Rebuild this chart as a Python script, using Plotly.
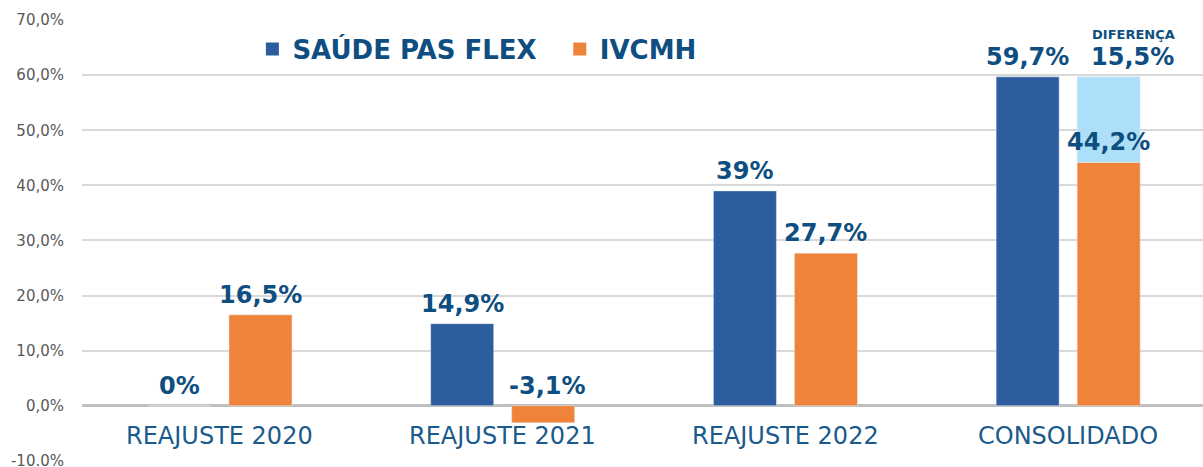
import plotly.graph_objects as go

categories = ["REAJUSTE 2020", "REAJUSTE 2021", "REAJUSTE 2022", "CONSOLIDADO"]
saude_pas_flex = [0, 14.9, 39, 59.7]
ivcmh = [16.5, -3.1, 27.7, 44.2]
saude_labels = ["0%", "14,9%", "39%", "59,7%"]
ivcmh_labels = ["16,5%", "-3,1%", "27,7%", "44,2%"]
diff_category = ["CONSOLIDADO"]
diff_value = [15.5]
diff_label = "15,5%"
diff_title = "DIFERENÇA"
tick_vals = [-10, 0, 10, 20, 30, 40, 50, 60, 70]
tick_text = ["-10.0%", "0,0%", "10,0%", "20,0%", "30,0%", "40,0%", "50,0%", "60,0%", "70,0%"]

BLUE = "#2D5D9F"
ORANGE = "#F0833A"
LIGHT = "#ADDFF9"
TEXT = "#0E4E80"
BOLD = "DejaVu Sans"

fig = go.Figure()
fig.add_trace(go.Bar(name="SAÚDE PAS FLEX", x=categories, y=saude_pas_flex,
                     marker_color=BLUE, offsetgroup="a", showlegend=False))
fig.add_trace(go.Bar(name="IVCMH", x=categories, y=ivcmh,
                     marker_color=ORANGE, offsetgroup="b", showlegend=False))
fig.add_trace(go.Bar(name="Diferença", x=diff_category, y=diff_value,
                     base=[ivcmh[3]], marker_color=LIGHT, offsetgroup="b",
                     showlegend=False))
# legend entries (square markers)
fig.add_trace(go.Scatter(name="SAÚDE PAS FLEX\u00a0\u00a0", x=[None], y=[None], mode="markers",
                         marker=dict(symbol="square", size=13, color=BLUE)))
fig.add_trace(go.Scatter(name="IVCMH", x=[None], y=[None], mode="markers",
                         marker=dict(symbol="square", size=13, color=ORANGE)))

label_font = dict(family=BOLD, size=24, color=TEXT, weight="bold")
off = 0.143
for i, c in enumerate(categories):
    fig.add_annotation(x=i - off, y=max(saude_pas_flex[i], 0), text=saude_labels[i],
                       showarrow=False, yanchor="bottom", yshift=4, font=label_font)
    yv = ivcmh[i] if ivcmh[i] >= 0 else 0
    fig.add_annotation(x=i + off, y=yv, text=ivcmh_labels[i],
                       showarrow=False, yanchor="bottom", yshift=4,
                       xshift=4 if ivcmh[i] < 0 else 0, font=label_font)
    fig.add_annotation(x=c, y=-5.5, text=c, showarrow=False, yanchor="middle",
                       font=dict(family="DejaVu Sans", size=24, color="#1A5A8C"))

fig.add_annotation(x=3 + off, y=saude_pas_flex[3], text=diff_label, showarrow=False,
                   yanchor="bottom", yshift=4, xshift=24, font=label_font)
fig.add_annotation(x=3 + off, y=saude_pas_flex[3], text=diff_title, showarrow=False,
                   yanchor="bottom", yshift=33, xshift=25,
                   font=dict(family=BOLD, size=13, color=TEXT, weight="bold"))

fig.update_layout(
    width=1203, height=467,
    margin=dict(l=82, r=0, t=20, b=6, autoexpand=False),
    plot_bgcolor="white", paper_bgcolor="white",
    barmode="group", bargap=0.427, bargroupgap=0.222,
    showlegend=True,
    legend=dict(orientation="h", x=0.152, y=0.934, xanchor="left", yanchor="middle",
                font=dict(family=BOLD, size=26, color=TEXT, weight="bold"),
                bgcolor="rgba(0,0,0,0)", itemsizing="trace"),
    xaxis=dict(range=[-0.488, 3.477], showticklabels=False, showgrid=False,
               zeroline=False, showline=False, ticks="", automargin=False),
    yaxis=dict(range=[-10.03, 70.02], tickvals=tick_vals, ticktext=tick_text,
               showgrid=True, gridcolor="#D9D9D9", gridwidth=2,
               zeroline=True, zerolinecolor="#BFBFBF", zerolinewidth=3,
               ticks="outside", ticklen=14, tickcolor="rgba(0,0,0,0)",
               tickfont=dict(family="DejaVu Sans", size=15, color="#595959"),
               ticklabeloverflow="allow", showline=False, automargin=False),
)
fig.write_html("out.html")
